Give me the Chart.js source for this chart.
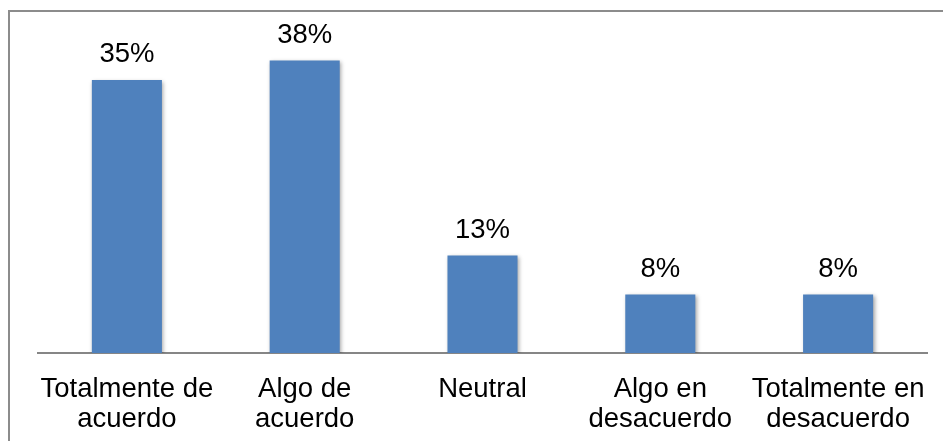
<!DOCTYPE html>
<html>
<head>
<meta charset="utf-8">
<script src="https://cdn.jsdelivr.net/npm/chart.js@4"></script>
<style>
  html, body { margin: 0; padding: 0; background: #fff; }
  #wrap { width: 943px; height: 441px; position: relative; }
</style>
</head>
<body>
<div id="wrap"><canvas id="respuestasChart"></canvas></div>
<script>
// categorias y valores
const categorias = [
    ['Totalmente de', 'acuerdo'],
    ['Algo de', 'acuerdo'],
    'Neutral',
    ['Algo en', 'desacuerdo'],
    ['Totalmente en', 'desacuerdo']
];
const porcentajes = [35, 37.5, 12.5, 7.5, 7.5];
const etiquetas = ['35%', '38%', '13%', '8%', '8%'];

const fuente = "'Liberation Sans', Arial, sans-serif";

// marco gris alrededor del grafico
const marco = {
    id: 'marco',
    beforeDraw: (chart) => {
        const ctx = chart.ctx;
        ctx.save();
        ctx.fillStyle = '#fff';
        ctx.fillRect(0, 0, chart.width, chart.height);
        ctx.strokeStyle = '#8c8c8c';
        ctx.lineWidth = 2;
        ctx.strokeRect(9, 11, chart.width + 10, chart.height + 10);
        ctx.restore();
    }
};

// sombra suave de las barras
const sombra = {
    id: 'sombra',
    beforeDatasetsDraw: (chart) => {
        const ctx = chart.ctx;
        ctx.save();
        ctx.shadowColor = 'rgba(0,0,0,0.35)';
        ctx.shadowBlur = 4;
        ctx.shadowOffsetX = 1.5;
        ctx.shadowOffsetY = 1.5;
    },
    afterDatasetsDraw: (chart) => {
        chart.ctx.restore();
    }
};

// porcentajes encima de cada barra
const valores = {
    id: 'valores',
    afterDatasetsDraw: (chart) => {
        const ctx = chart.ctx;
        const meta = chart.getDatasetMeta(0);
        ctx.save();
        ctx.font = '27.5px ' + fuente;
        ctx.fillStyle = '#000';
        ctx.textAlign = 'center';
        ctx.textBaseline = 'alphabetic';
        meta.data.forEach((bar, i) => {
            ctx.fillText(etiquetas[i], bar.x, bar.y - 18);
        });
        ctx.restore();
    }
};

const ctx = document.getElementById('respuestasChart');

new Chart(ctx, {
    type: 'bar',
    data: {
        labels: categorias,
        datasets: [{
            data: porcentajes,
            backgroundColor: '#4F81BD',
            borderWidth: 0,
            categoryPercentage: 1,
            barPercentage: 0.394
        }]
    },
    options: {
        responsive: true,
        maintainAspectRatio: false,
        animation: false,
        layout: {
            padding: { left: 38, right: 16, top: 41, bottom: 0 }
        },
        plugins: {
            legend: { display: false },
            tooltip: { enabled: false }
        },
        scales: {
            x: {
                grid: { display: false },
                border: { color: '#868686', width: 2 },
                ticks: {
                    color: '#000',
                    padding: 13,
                    maxRotation: 0,
                    autoSkip: false,
                    font: { family: fuente, size: 27.5, lineHeight: 1.1 }
                },
                afterFit: (scale) => { scale.height = 88; }
            },
            y: {
                display: false,
                min: 0,
                max: 40
            }
        }
    },
    plugins: [marco, sombra, valores]
});
</script>
</body>
</html>
